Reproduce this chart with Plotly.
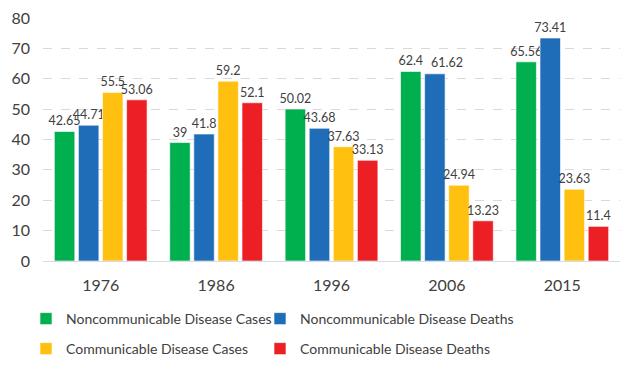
import plotly.graph_objects as go

years = ["1976", "1986", "1996", "2006", "2015"]
ncd_cases = [42.65, 39, 50.02, 62.4, 65.56]
ncd_deaths = [44.71, 41.8, 43.68, 61.62, 73.41]
cd_cases = [55.5, 59.2, 37.63, 24.94, 23.63]
cd_deaths = [53.06, 52.1, 33.13, 13.23, 11.4]

series = [
    ("Noncommunicable Disease Cases", ncd_cases, "#00B04F"),
    ("Noncommunicable Disease Deaths", ncd_deaths, "#1F6DB9"),
    ("Communicable Disease Cases", cd_cases, "#FFC010"),
    ("Communicable Disease Deaths", cd_deaths, "#EC2024"),
]
legend_ids = ["legend", "legend2", "legend3", "legend4"]

font_family = "Lato, Open Sans, sans-serif"
label_font = dict(size=12.5, color="#404040", family=font_family)

# figure is drawn inside the page body (8px default margin)
W, H = 624, 360
ml, mr, mt, mb = 35, 12, 10, 107
plot_w = W - ml - mr
plot_h = H - mt - mb

# the 2006 "deaths" label in the reference is nudged to the right of its bar
moved = (1, 3)  # (series index, category index)

fig = go.Figure()
for si, ((name, vals, col), lg) in enumerate(zip(series, legend_ids)):
    texts = []
    for ci, v in enumerate(vals):
        texts.append("" if (si, ci) == moved else f"{v:g}")
    fig.add_trace(go.Bar(
        x=years, y=vals, name=name, legend=lg,
        marker=dict(color=col, line=dict(color="rgba(255,255,255,0.6)", width=1)),
        text=texts, textposition="outside",
        constraintext="none",
        textfont=label_font,
        cliponaxis=False,
    ))

mv_val = series[moved[0]][1][moved[1]]
fig.add_annotation(
    x=moved[1], y=mv_val, text=f"{mv_val:g}",  # category serial number
    showarrow=False, yanchor="bottom", xanchor="center",
    xshift=0, yshift=2, font=label_font,
)

def leg(px_x, px_below):
    return dict(
        orientation="h", xanchor="left", yanchor="middle",
        x=px_x / plot_w, y=-px_below / plot_h,
        font=dict(size=14, color="#404040", family=font_family),
        bgcolor="rgba(0,0,0,0)", borderwidth=0,
    )

col1, col2 = -17, 217
row1, row2 = 58, 88

fig.update_layout(
    width=W, height=H,
    margin=dict(l=ml, r=mr, t=mt, b=mb, autoexpand=False),
    paper_bgcolor="white", plot_bgcolor="white",
    barmode="group", bargap=0.165, bargroupgap=0.15,
    font=dict(family=font_family, color="#404040"),
    showlegend=True,
    legend=leg(col1, row1),
    legend2=leg(col2, row1),
    legend3=leg(col1, row2),
    legend4=leg(col2, row2),
    yaxis=dict(
        range=[0, 80], dtick=10,
        showgrid=True, gridcolor="#D9D9D9", griddash="dash",
        zeroline=False, showline=False,
        tickfont=dict(size=16, color="#404040"),
        ticks="", ticklen=0, ticklabelstandoff=12,
        ticklabeloverflow="allow",
    ),
    xaxis=dict(
        type="category",
        showline=True, linecolor="#D6DCE5", linewidth=1,
        tickfont=dict(size=16, color="#404040"),
        ticks="", ticklabelstandoff=10,
    ),
)

fig.write_html("out.html")
